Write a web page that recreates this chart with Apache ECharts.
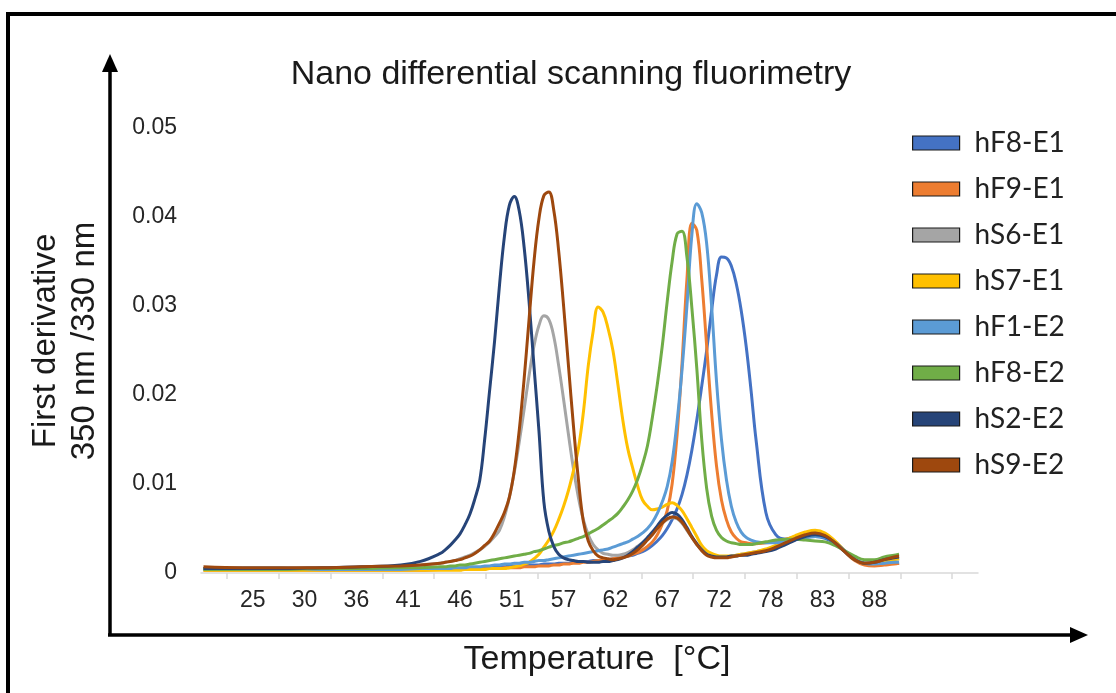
<!DOCTYPE html>
<html>
<head>
<meta charset="utf-8">
<script src="https://cdn.jsdelivr.net/npm/echarts@6/dist/echarts.min.js"></script>
<style>
  html, body { margin: 0; padding: 0; background: #fff; }
  #chart { width: 1116px; height: 693px; }
</style>
</head>
<body>
<div id="chart"></div>
<script>
// sample temperatures (°C) shared by all curves
var temps = [20, 24, 28, 32, 36, 40, 42, 44,
  44.5, 45, 45.5, 46, 46.5, 47, 47.5, 48, 48.5, 49, 49.5, 50,
  50.5, 51, 51.5, 52, 52.5, 53, 53.5, 54, 54.5, 55, 55.5, 56,
  56.5, 57, 57.5, 58, 58.5, 59, 59.5, 60, 60.5, 61, 61.5, 62,
  62.5, 63, 63.5, 64, 64.5, 65, 65.5, 66, 66.5, 67, 67.5, 68,
  68.5, 69, 69.5, 70, 70.5, 71, 71.5, 72, 72.5, 73, 73.5, 74,
  74.5, 75, 75.5, 76,
  77, 78, 79, 80, 81, 82, 83, 84, 85, 86, 87, 88, 89, 90, 90.5];

// first derivative 350/330 nm
var hF8_E1 = [0.0005, 0.0004, 0.0004, 0.0004, 0.0004, 0.0004, 0.0005, 0.0005,
  0.0005, 0.0005, 0.0005, 0.0005, 0.0006, 0.0006, 0.0006, 0.0006, 0.0006, 0.0007, 0.0007, 0.0007,
  0.0007, 0.0008, 0.0008, 0.0008, 0.0008, 0.0009, 0.0009, 0.0009, 0.0010, 0.0010, 0.0010, 0.0011,
  0.0011, 0.0011, 0.0012, 0.0012, 0.0013, 0.0013, 0.0014, 0.0014, 0.0015, 0.0015, 0.0016, 0.0017,
  0.0018, 0.0019, 0.0020, 0.0022, 0.0024, 0.0027, 0.0031, 0.0036, 0.0042, 0.0050, 0.0060, 0.0072,
  0.0088, 0.0110, 0.0138, 0.0172, 0.0210, 0.0250, 0.0295, 0.0335, 0.0355, 0.0354, 0.0345, 0.0325,
  0.0295, 0.0255, 0.0205, 0.0150,
  0.0068, 0.0043, 0.0038, 0.0038, 0.0040, 0.0041, 0.0039, 0.0033, 0.0024, 0.0015, 0.0010, 0.0009, 0.0010, 0.0011, 0.0011];

var hF9_E1 = [0.0003, 0.0003, 0.0003, 0.0003, 0.0003, 0.0003, 0.0003, 0.0004,
  0.0004, 0.0004, 0.0004, 0.0004, 0.0004, 0.0004, 0.0005, 0.0005, 0.0005, 0.0005, 0.0005, 0.0005,
  0.0006, 0.0006, 0.0006, 0.0006, 0.0007, 0.0007, 0.0007, 0.0008, 0.0008, 0.0008, 0.0009, 0.0009,
  0.0010, 0.0010, 0.0011, 0.0011, 0.0012, 0.0012, 0.0013, 0.0014, 0.0014, 0.0015, 0.0016, 0.0017,
  0.0018, 0.0019, 0.0021, 0.0023, 0.0026, 0.0030, 0.0035, 0.0043, 0.0055, 0.0070, 0.0100, 0.0155,
  0.0235, 0.0330, 0.0393, 0.0385, 0.0330, 0.0255, 0.0180, 0.0120, 0.0082, 0.0060, 0.0046, 0.0039,
  0.0035, 0.0034, 0.0033, 0.0033,
  0.0034, 0.0035, 0.0038, 0.0041, 0.0044, 0.0046, 0.0043, 0.0035, 0.0024, 0.0014, 0.0009, 0.0008, 0.0009, 0.0010, 0.0011];

var hS6_E1 = [0.0005, 0.0005, 0.0005, 0.0006, 0.0006, 0.0007, 0.0009, 0.0011,
  0.0012, 0.0013, 0.0014, 0.0016, 0.0018, 0.0020, 0.0023, 0.0026, 0.0030, 0.0035, 0.0041, 0.0048,
  0.0063, 0.0085, 0.0113, 0.0147, 0.0184, 0.0222, 0.0255, 0.0278, 0.0289, 0.0285, 0.0266, 0.0233,
  0.0195, 0.0155, 0.0117, 0.0085, 0.0060, 0.0043, 0.0032, 0.0026, 0.0022, 0.0021, 0.0020, 0.0020,
  0.0021, 0.0023, 0.0026, 0.0030, 0.0034, 0.0039, 0.0045, 0.0051, 0.0056, 0.0060, 0.0062, 0.0061,
  0.0056, 0.0048, 0.0040, 0.0032, 0.0026, 0.0021, 0.0019, 0.0018, 0.0018, 0.0018, 0.0019, 0.0020,
  0.0021, 0.0022, 0.0023, 0.0024,
  0.0026, 0.0030, 0.0035, 0.0040, 0.0044, 0.0046, 0.0043, 0.0035, 0.0025, 0.0016, 0.0011, 0.0011, 0.0013, 0.0015, 0.0016];

var hS7_E1 = [0.0003, 0.0003, 0.0003, 0.0003, 0.0003, 0.0003, 0.0003, 0.0003,
  0.0003, 0.0003, 0.0003, 0.0003, 0.0004, 0.0004, 0.0004, 0.0004, 0.0004, 0.0005, 0.0005, 0.0005,
  0.0005, 0.0006, 0.0007, 0.0008, 0.0010, 0.0012, 0.0016, 0.0021, 0.0029, 0.0037, 0.0047, 0.0060,
  0.0075, 0.0093, 0.0115, 0.0140, 0.0180, 0.0233, 0.0272, 0.0299, 0.0293, 0.0275, 0.0250, 0.0212,
  0.0172, 0.0140, 0.0118, 0.0098, 0.0082, 0.0075, 0.0071, 0.0072, 0.0074, 0.0077, 0.0079, 0.0076,
  0.0070, 0.0061, 0.0051, 0.0041, 0.0031, 0.0025, 0.0022, 0.0020, 0.0019, 0.0019, 0.0019, 0.0020,
  0.0021, 0.0022, 0.0023, 0.0024,
  0.0027, 0.0031, 0.0037, 0.0042, 0.0046, 0.0048, 0.0045, 0.0036, 0.0025, 0.0016, 0.0011, 0.0011, 0.0013, 0.0015, 0.0016];

var hF1_E2 = [0.0004, 0.0006, 0.0006, 0.0004, 0.0004, 0.0004, 0.0005, 0.0005,
  0.0005, 0.0005, 0.0006, 0.0006, 0.0006, 0.0007, 0.0007, 0.0007, 0.0008, 0.0008, 0.0009, 0.0009,
  0.0010, 0.0010, 0.0011, 0.0011, 0.0012, 0.0012, 0.0013, 0.0014, 0.0014, 0.0015, 0.0016, 0.0017,
  0.0018, 0.0019, 0.0020, 0.0021, 0.0022, 0.0023, 0.0024, 0.0025, 0.0026, 0.0027, 0.0029, 0.0031,
  0.0033, 0.0035, 0.0038, 0.0041, 0.0045, 0.0050, 0.0057, 0.0067, 0.0080, 0.0097, 0.0125, 0.0170,
  0.0228, 0.0300, 0.0380, 0.0415, 0.0405, 0.0370, 0.0300, 0.0215, 0.0150, 0.0105, 0.0075, 0.0057,
  0.0046, 0.0040, 0.0037, 0.0035,
  0.0034, 0.0034, 0.0036, 0.0038, 0.0040, 0.0041, 0.0040, 0.0034, 0.0025, 0.0016, 0.0011, 0.0010, 0.0011, 0.0012, 0.0012];

var hF8_E2 = [0.0004, 0.0004, 0.0004, 0.0005, 0.0005, 0.0006, 0.0006, 0.0007,
  0.0007, 0.0008, 0.0008, 0.0009, 0.0009, 0.0010, 0.0011, 0.0012, 0.0013, 0.0014, 0.0015, 0.0016,
  0.0017, 0.0018, 0.0019, 0.0020, 0.0021, 0.0022, 0.0024, 0.0025, 0.0027, 0.0029, 0.0031, 0.0032,
  0.0034, 0.0035, 0.0037, 0.0039, 0.0041, 0.0044, 0.0047, 0.0050, 0.0054, 0.0058, 0.0062, 0.0067,
  0.0074, 0.0082, 0.0092, 0.0105, 0.0122, 0.0143, 0.0175, 0.0212, 0.0255, 0.0305, 0.0350, 0.0381,
  0.0384, 0.0355, 0.0298, 0.0230, 0.0150, 0.0095, 0.0064, 0.0048, 0.0040, 0.0036, 0.0034, 0.0033,
  0.0032, 0.0032, 0.0032, 0.0033,
  0.0035, 0.0037, 0.0038, 0.0038, 0.0037, 0.0036, 0.0035, 0.0031, 0.0025, 0.0019, 0.0015, 0.0015, 0.0018, 0.0020, 0.0021];

var hS2_E2 = [0.0005, 0.0005, 0.0005, 0.0006, 0.0007, 0.0009, 0.0013, 0.0022,
  0.0026, 0.0031, 0.0037, 0.0044, 0.0054, 0.0066, 0.0083, 0.0104, 0.0150, 0.0205, 0.0260, 0.0323,
  0.0378, 0.0413, 0.0423, 0.0407, 0.0366, 0.0305, 0.0232, 0.0160, 0.0080, 0.0047, 0.0030, 0.0021,
  0.0017, 0.0015, 0.0014, 0.0013, 0.0013, 0.0012, 0.0012, 0.0012, 0.0013, 0.0013, 0.0014, 0.0015,
  0.0017, 0.0020, 0.0024, 0.0029, 0.0034, 0.0040, 0.0046, 0.0053, 0.0060, 0.0065, 0.0068, 0.0066,
  0.0060, 0.0051, 0.0041, 0.0033, 0.0026, 0.0021, 0.0019, 0.0018, 0.0018, 0.0018, 0.0019, 0.0019,
  0.0020, 0.0020, 0.0021, 0.0022,
  0.0024, 0.0027, 0.0032, 0.0037, 0.0041, 0.0043, 0.0041, 0.0034, 0.0024, 0.0015, 0.0011, 0.0012, 0.0015, 0.0017, 0.0018];

var hS9_E2 = [0.0007, 0.0006, 0.0006, 0.0006, 0.0007, 0.0008, 0.0009, 0.0011,
  0.0012, 0.0013, 0.0014, 0.0015, 0.0017, 0.0019, 0.0022, 0.0026, 0.0031, 0.0036, 0.0045, 0.0056,
  0.0068, 0.0085, 0.0115, 0.0160, 0.0218, 0.0285, 0.0350, 0.0398, 0.0424, 0.0428, 0.0408, 0.0362,
  0.0300, 0.0232, 0.0165, 0.0105, 0.0058, 0.0036, 0.0025, 0.0019, 0.0017, 0.0016, 0.0015, 0.0016,
  0.0017, 0.0019, 0.0022, 0.0026, 0.0031, 0.0037, 0.0043, 0.0050, 0.0056, 0.0061, 0.0063, 0.0062,
  0.0057, 0.0049, 0.0040, 0.0032, 0.0025, 0.0020, 0.0018, 0.0017, 0.0017, 0.0017, 0.0018, 0.0019,
  0.0020, 0.0021, 0.0022, 0.0023,
  0.0025, 0.0029, 0.0034, 0.0039, 0.0043, 0.0045, 0.0042, 0.0034, 0.0024, 0.0015, 0.0011, 0.0012, 0.0015, 0.0018, 0.0019];

var seriesNames = ['hF8-E1', 'hF9-E1', 'hS6-E1', 'hS7-E1', 'hF1-E2', 'hF8-E2', 'hS2-E2', 'hS9-E2'];
var seriesValues = [hF8_E1, hF9_E1, hS6_E1, hS7_E1, hF1_E2, hF8_E2, hS2_E2, hS9_E2];
var seriesColors = ['#4472C4', '#ED7D31', '#A5A5A5', '#FFC000', '#5B9BD5', '#70AD47', '#264478', '#9E480E'];

// category-style labels of the original axis and the ticks between them
var xLabels = ['25', '30', '36', '41', '46', '51', '57', '62', '67', '72', '78', '83', '88'];
var xLabelTemps = [25, 30.25, 35.5, 40.75, 46, 51.25, 56.5, 61.75, 67, 72.25, 77.5, 82.75, 88];
var xTickTemps = [22.375, 27.625, 32.875, 38.125, 43.375, 48.625, 53.875, 59.125,
  64.375, 69.625, 74.875, 80.125, 85.375, 90.625, 95.875];

var chart = echarts.init(document.getElementById('chart'));

var series = seriesNames.map(function (name, i) {
  return {
    name: name,
    type: 'line',
    data: temps.map(function (t, j) { return [t, seriesValues[i][j]]; }),
    smooth: 0.4,
    showSymbol: false,
    symbol: 'none',
    lineStyle: { width: 3, color: seriesColors[i] },
    itemStyle: { color: seriesColors[i] },
    emphasis: { disabled: true }
  };
});

var option = {
  animation: false,
  backgroundColor: '#fff',
  grid: { left: 201, right: 138, top: 128, bottom: 120 },
  legend: {
    orient: 'vertical',
    left: 907,
    top: 123,
    icon: 'rect',
    itemWidth: 47,
    itemHeight: 14,
    itemGap: 16,
    itemStyle: { borderColor: '#1a1a1a', borderWidth: 1.2 },
    textStyle: { fontFamily: 'Lato', fontSize: 28, color: '#222', lineHeight: 30, padding: [0, 0, 0, 10] },
    data: seriesNames
  },
  xAxis: {
    type: 'value',
    min: 19.75,
    max: 98.5,
    axisLine: { lineStyle: { color: '#d9d9d9', width: 1.5 } },
    axisTick: { show: true, customValues: xTickTemps, length: 6, lineStyle: { color: '#d9d9d9', width: 1.5 } },
    axisLabel: {
      customValues: xLabelTemps,
      formatter: function (v) { return xLabels[xLabelTemps.indexOf(v)]; },
      margin: 16,
      fontFamily: 'Liberation Sans',
      fontSize: 23,
      color: '#262626'
    },
    splitLine: { show: false }
  },
  yAxis: {
    type: 'value',
    min: 0,
    max: 0.05,
    interval: 0.01,
    axisLine: { show: false },
    axisTick: { show: false },
    splitLine: { show: false },
    axisLabel: {
      formatter: function (v) { return v === 0 ? '0' : v.toFixed(2); },
      margin: 24,
      fontFamily: 'Liberation Sans',
      fontSize: 23,
      color: '#262626'
    }
  },
  graphic: [
    // outer frame
    { type: 'line', silent: true, shape: { x1: 6, y1: 14, x2: 1116, y2: 14 }, style: { stroke: '#000', lineWidth: 4 } },
    { type: 'line', silent: true, shape: { x1: 8, y1: 12, x2: 8, y2: 693 }, style: { stroke: '#000', lineWidth: 4 } },
    // axis arrows
    { type: 'line', silent: true, shape: { x1: 110, y1: 636, x2: 110, y2: 70 }, style: { stroke: '#000', lineWidth: 3.5 } },
    { type: 'polygon', silent: true, shape: { points: [[110, 54], [102, 72], [118, 72]] }, style: { fill: '#000' } },
    { type: 'line', silent: true, shape: { x1: 108, y1: 635, x2: 1072, y2: 635 }, style: { stroke: '#000', lineWidth: 3.5 } },
    { type: 'polygon', silent: true, shape: { points: [[1088, 635], [1070, 627], [1070, 643]] }, style: { fill: '#000' } },
    // titles
    { type: 'text', silent: true, x: 571, y: 75,
      style: { text: 'Nano differential scanning fluorimetry', fill: '#1a1a1a', fontFamily: 'Liberation Sans', fontSize: 34, align: 'center', verticalAlign: 'middle' } },
    { type: 'text', silent: true, x: 65, y: 341, rotation: Math.PI / 2,
      style: { text: 'First derivative\n350 nm /330 nm', fill: '#1a1a1a', fontFamily: 'Liberation Sans', fontSize: 33, lineHeight: 39, align: 'center', verticalAlign: 'middle' } },
    { type: 'text', silent: true, x: 597, y: 660,
      style: { text: 'Temperature  [°C]', fill: '#1a1a1a', fontFamily: 'Liberation Sans', fontSize: 34, align: 'center', verticalAlign: 'middle' } }
  ],
  series: series
};

chart.setOption(option);
</script>
</body>
</html>
